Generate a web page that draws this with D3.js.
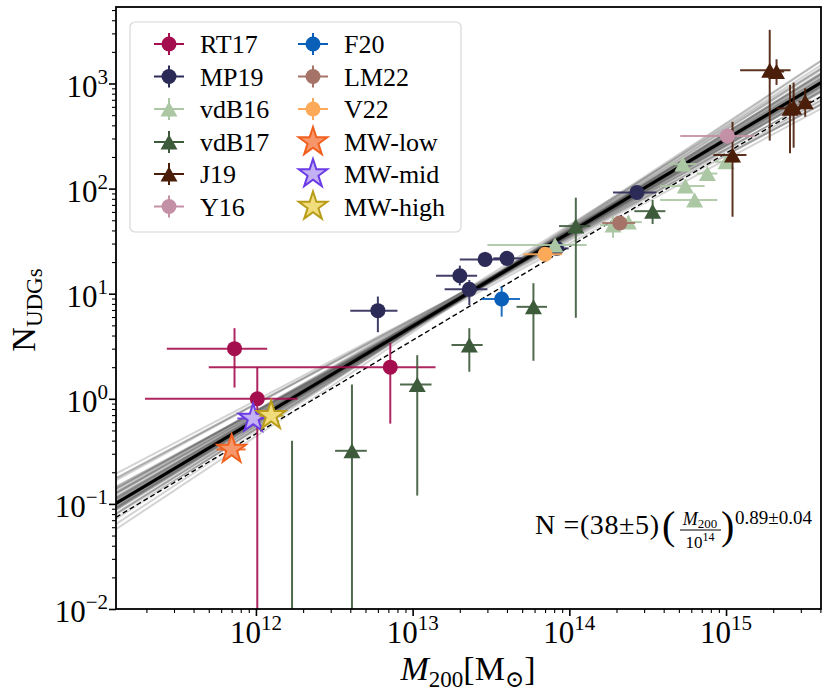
<!DOCTYPE html>
<html><head><meta charset="utf-8">
<script src="https://cdn.jsdelivr.net/npm/d3@7"></script>
<style>
body{margin:0;background:#fff}
svg{display:block}
text{font-family:"Liberation Serif","Times New Roman",serif;fill:#000}
</style>
</head><body>
<svg id="c" width="830" height="692"></svg>
<script>
// ---------------- DATA ----------------
// rows: [M200, N, M_low, M_high, N_low, N_high]
const RT17 = [
  [7.3e11, 3.0, 2.7e11, 1.18e12, 1.28, 4.7],
  [1.02e12, 1.0, 1.96e11, 1.84e12, 0.001, 2.0],
  [7.2e12, 2.0, 5.0e11, 1.40e13, 0.58, 3.4]
];
const MP19 = [
  [6.0e12, 6.9, 4.0e12, 8.0e12, 4.3, 9.4],
  [2.0e13, 14.8, 1.41e13, 2.58e13, 12.0, 18.5],
  [2.3e13, 11.0, 1.6e13, 3.0e13, 7.8, 13.5],
  [2.9e13, 21.2, 2.0e13, 3.6e13, 18.0, 25.0],
  [4.0e13, 21.7, 3.27e13, 5.0e13, 18.5, 25.0],
  [8.3e13, 27.0, 7.2e13, 9.9e13, 24.0, 30.0],
  [2.7e14, 92, 1.9e14, 3.6e14, 80, 105]
];
const vdB16 = [
  [8.1e13, 29, 3.0e13, 1.29e14, 26, 32],
  [1.9e14, 45, 1.57e14, 2.3e14, 34, 55],
  [2.38e14, 48, 2.0e14, 2.9e14, 42, 55],
  [5.3e14, 171, 4.28e14, 6.5e14, 150, 195],
  [7.6e14, 139, 6.5e14, 8.8e14, 122, 158],
  [5.5e14, 106, 3.8e14, 7.3e14, 93, 120],
  [6.3e14, 78, 3.8e14, 8.8e14, 68, 89],
  [1.0e15, 180, 8.5e14, 1.18e15, 158, 205]
];
const vdB17 = [
  [1.7e12, 0.005, 1.5e12, 1.9e12, 0.001, 0.40],
  [4.1e12, 0.32, 3.2e12, 5.1e12, 0.001, 1.37],
  [1.07e13, 1.37, 8.3e12, 1.32e13, 0.12, 2.6],
  [2.3e13, 3.25, 1.77e13, 2.8e13, 1.81, 4.7],
  [5.9e13, 7.5, 4.6e13, 7.2e13, 2.3, 12.6],
  [1.1e14, 44, 8.6e13, 1.36e14, 5.9, 82],
  [3.4e14, 61, 2.6e14, 4.1e14, 46, 78]
];
const J19 = [
  [1.9e15, 1340, 1.23e15, 2.58e15, 286, 3240],
  [2.1e15, 1300, 1.9e15, 2.35e15, 970, 1700],
  [2.56e15, 580, 2.1e15, 3.0e15, 217, 970],
  [2.7e15, 593, 2.4e15, 3.05e15, 245, 1020],
  [3.2e15, 671, 2.9e15, 3.5e15, 483, 900],
  [1.1e15, 209, 8.3e14, 1.35e15, 54, 432]
];
const Y16 = [
  [1.02e15, 316, 5.1e14, 1.53e15, 270, 370]
];
const F20 = [
  [3.7e13, 8.9, 2.75e13, 4.84e13, 6.05, 11.7]
];
const LM22 = [
  [2.1e14, 47, 1.62e14, 2.63e14, 42, 52]
];
const V22 = [
  [7.0e13, 23.7, 5.1e13, 9.0e13, 21, 26.5]
];
const MWlow  = [[7.0e11, 0.33, 5.6e11, 8.6e11, 0.30, 0.36]];
const MWmid  = [[9.6e11, 0.65, 7.6e11, 1.2e12, 0.60, 0.70]];
const MWhigh = [[1.25e12, 0.69, 1.05e12, 1.5e12, 0.64, 0.74]];

// best fit N = A (M/1e14)^B and alternative (dashed)
const fitA = 38, fitB = 0.89;
const dashA = 28, dashB = 0.89;
// posterior samples of the fit (normalisation at 1e14, slope)
const sampleA = [38,37,39,38,38,37,39,36,40,38,37,39,38,38,36,40,37,39,35,41,
                 34,42,36,40,35,41,37,39,33,43,36,38,40,37,39,
                 36,34,37,40,32,44,42,30,45,35];
const sampleB = [0.89,0.88,0.90,0.88,0.90,0.89,0.89,0.87,0.91,0.89,0.87,0.91,0.87,0.91,0.88,0.90,0.90,0.88,0.86,0.92,
                 0.84,0.94,0.85,0.93,0.83,0.95,0.84,0.94,0.82,0.96,0.86,0.86,0.92,0.85,0.93,
                 0.80,0.79,0.81,0.86,0.81,0.98,0.99,0.80,0.93,0.78];

const xMajor = [1e12, 1e13, 1e14, 1e15];
const xMajorExp = ["12","13","14","15"];
const yMajor = [1e-2, 1e-1, 1e0, 1e1, 1e2, 1e3];
const yMajorExp = ["\u22122","\u22121","0","1","2","3"];

// ---------------- SERIES STYLE ----------------
const series = [
  {name:"RT17", data:RT17, marker:"o", color:"#a50e4e"},
  {name:"MP19", data:MP19, marker:"o", color:"#2c2a57"},
  {name:"vdB16", data:vdB16, marker:"^", color:"#abc7a3"},
  {name:"vdB17", data:vdB17, marker:"^", color:"#3d5a3a"},
  {name:"J19", data:J19, marker:"^", color:"#4b1e0a"},
  {name:"Y16", data:Y16, marker:"o", color:"#c490a6"},
  {name:"F20", data:F20, marker:"o", color:"#0a60b8"},
  {name:"LM22", data:LM22, marker:"o", color:"#a57368"},
  {name:"V22", data:V22, marker:"o", color:"#fca95a"},
  {name:"MW-low", data:MWlow, marker:"*", color:"#f0601f", face:"#f7966a"},
  {name:"MW-mid", data:MWmid, marker:"*", color:"#6b3be6", face:"#c3b1f3"},
  {name:"MW-high", data:MWhigh, marker:"*", color:"#b89c1a", face:"#f1dd7c"}
];

// ---------------- CHART ----------------
const FONT = "Liberation Serif, Times New Roman, serif";
const L=116, R=821, T=7, B=609;
const x = d3.scaleLog().domain([Math.pow(10,11.107), Math.pow(10,15.606)]).range([L,R]);
const y = d3.scaleLog().domain([1e-2, Math.pow(10,3.728)]).range([B,T]);
const svg = d3.select("#c");

svg.append("defs").append("clipPath").attr("id","clip")
  .append("rect").attr("x",L).attr("y",T).attr("width",R-L).attr("height",B-T);
const plot = svg.append("g").attr("clip-path","url(#clip)");

const xd = x.domain();
const powerLine = (A,Bs) => d3.line()
  .x(d=>x(d)).y(d=>y(A*Math.pow(d/1e14,Bs)))(xd);

sampleA.forEach((a,i)=>{
  plot.append("path").attr("d",powerLine(a,sampleB[i]))
    .attr("fill","none").attr("stroke","#4a4a4a").attr("stroke-width",2).attr("stroke-opacity",0.24);
});
plot.append("path").attr("d",powerLine(fitA,fitB))
  .attr("fill","none").attr("stroke","#000").attr("stroke-width",3.2);
plot.append("path").attr("d",powerLine(dashA,dashB))
  .attr("fill","none").attr("stroke","#fff").attr("stroke-width",2.6).attr("stroke-opacity",0.7);
plot.append("path").attr("d",powerLine(dashA,dashB))
  .attr("fill","none").attr("stroke","#000").attr("stroke-width",1.4).attr("stroke-dasharray","5,3");

function starPath(Ro){
  const ri = Ro*0.382, pts=[];
  for(let k=0;k<10;k++){
    const r = k%2===0?Ro:ri, a = -Math.PI/2 + k*Math.PI/5;
    pts.push([r*Math.cos(a), r*Math.sin(a)]);
  }
  return "M"+pts.map(p=>p[0].toFixed(2)+","+p[1].toFixed(2)).join("L")+"Z";
}
const triPath = "M0,-7.5L8.5,7.5L-8.5,7.5Z";

function drawMarker(g, s, cx, cy){
  if(s.marker==="o"){
    g.append("circle").attr("cx",cx).attr("cy",cy).attr("r",7.5).attr("fill",s.color);
  } else if(s.marker==="^"){
    g.append("path").attr("d",triPath).attr("transform",`translate(${cx},${cy})`).attr("fill",s.color);
  } else {
    g.append("path").attr("d",starPath(15)).attr("transform",`translate(${cx},${cy})`)
      .attr("fill",s.face).attr("stroke",s.color).attr("stroke-width",2).attr("stroke-linejoin","miter");
  }
}

series.forEach(s=>{
  const g = plot.append("g");
  s.data.forEach(d=>{
    const [m,n,mlo,mhi,nlo,nhi] = d;
    g.append("line").attr("x1",x(mlo)).attr("x2",x(mhi)).attr("y1",y(n)).attr("y2",y(n))
      .attr("stroke",s.color).attr("stroke-width",2).attr("stroke-opacity",0.9);
    g.append("line").attr("x1",x(m)).attr("x2",x(m)).attr("y1",y(nlo)).attr("y2",y(nhi))
      .attr("stroke",s.color).attr("stroke-width",2).attr("stroke-opacity",0.9);
  });
  s.data.forEach(d=>drawMarker(g, s, x(d[0]), y(d[1])));
});

// ---------------- AXES ----------------
function minors(lo,hi){
  const out=[];
  for(let e=lo;e<=hi;e++) for(let k=2;k<=9;k++){ out.push(k*Math.pow(10,e)); }
  return out;
}
const xMin = minors(11,15).filter(v=>v>=xd[0]&&v<=xd[1]);
const yMin = minors(-2,3).filter(v=>v>=y.domain()[0]&&v<=y.domain()[1]);

const axX = svg.append("g").attr("transform",`translate(0,${B})`);
axX.append("g").call(d3.axisBottom(x).tickValues(xMajor).tickSize(7).tickFormat(""))
  .call(g=>{g.select(".domain").remove(); g.selectAll("line").attr("stroke-width",1.6);});
axX.append("g").call(d3.axisBottom(x).tickValues(xMin).tickSize(4).tickFormat(""))
  .call(g=>{g.select(".domain").remove(); g.selectAll("line").attr("stroke-width",1.1);});

const axY = svg.append("g").attr("transform",`translate(${L},0)`);
axY.append("g").call(d3.axisLeft(y).tickValues(yMajor).tickSize(7).tickFormat(""))
  .call(g=>{g.select(".domain").remove(); g.selectAll("line").attr("stroke-width",1.6);});
axY.append("g").call(d3.axisLeft(y).tickValues(yMin).tickSize(4).tickFormat(""))
  .call(g=>{g.select(".domain").remove(); g.selectAll("line").attr("stroke-width",1.1);});

svg.append("rect").attr("x",L).attr("y",T).attr("width",R-L).attr("height",B-T)
  .attr("fill","none").attr("stroke","#000").attr("stroke-width",1.8);

xMajor.forEach((v,i)=>{
  const t = svg.append("text").attr("x",x(v)).attr("y",643).attr("text-anchor","middle")
    .attr("font-family",FONT).attr("font-size",31);
  t.append("tspan").text("10");
  t.append("tspan").attr("font-size",21).attr("dy",-13).text(xMajorExp[i]);
});
yMajor.forEach((v,i)=>{
  const t = svg.append("text").attr("x",108).attr("y",y(v)+13).attr("text-anchor","end")
    .attr("font-family",FONT).attr("font-size",31);
  t.append("tspan").text("10");
  t.append("tspan").attr("font-size",21).attr("dy",-13).text(yMajorExp[i]);
});

// axis titles
const xt = svg.append("text").attr("x",468).attr("y",680).attr("text-anchor","middle")
  .attr("font-family",FONT).attr("font-size",34);
xt.append("tspan").attr("font-style","italic").text("M");
xt.append("tspan").attr("font-size",23).attr("dy",7).text("200");
xt.append("tspan").attr("dy",-7).text("[M");
xt.append("tspan").attr("font-size",23).attr("dy",7).attr("font-family","DejaVu Serif").text("\u2299");
xt.append("tspan").attr("dy",-7).text("]");

const yt = svg.append("text").attr("transform","translate(35,310) rotate(-90)").attr("text-anchor","middle")
  .attr("font-family",FONT).attr("font-size",34);
yt.append("tspan").text("N");
yt.append("tspan").attr("font-size",23).attr("dy",7).text("UDGs");

// annotation
const ann = svg.append("g").attr("font-family",FONT);
ann.append("text").attr("x",535).attr("y",534).attr("font-size",28)
  .attr("textLength",124).attr("lengthAdjust","spacing").text("N =(38\u00B15)");
ann.append("text").attr("x",662).attr("y",539).attr("font-size",40).text("(");
const num = ann.append("text").attr("x",700).attr("y",525).attr("text-anchor","middle").attr("font-size",18);
num.append("tspan").attr("font-style","italic").text("M");
num.append("tspan").attr("font-size",13).attr("dy",3).text("200");
ann.append("line").attr("x1",680).attr("x2",721).attr("y1",530).attr("y2",530).attr("stroke","#000").attr("stroke-width",1);
const den = ann.append("text").attr("x",700).attr("y",548).attr("text-anchor","middle").attr("font-size",17);
den.append("tspan").text("10");
den.append("tspan").attr("font-size",12).attr("dy",-7).text("14");
ann.append("text").attr("x",721).attr("y",539).attr("font-size",40).text(")");
ann.append("text").attr("x",735).attr("y",524).attr("font-size",19).text("0.89\u00B10.04");

// ---------------- LEGEND ----------------
const leg = svg.append("g");
leg.append("rect").attr("x",130).attr("y",22).attr("width",331).attr("height",210).attr("rx",5)
  .attr("fill","#fff").attr("fill-opacity",0.85).attr("stroke","#d8d8d8").attr("stroke-width",1.2);
const rowsY = [44, 76.5, 109, 142, 174, 206.5];
series.forEach((s,i)=>{
  const col = Math.floor(i/6), row = i%6;
  const mx = col===0?169:313, tx = col===0?200:344, cy = rowsY[row];
  const g = leg.append("g");
  if(s.marker!=="*"){
    g.append("line").attr("x1",mx-15).attr("x2",mx+15).attr("y1",cy).attr("y2",cy).attr("stroke",s.color).attr("stroke-width",2);
    g.append("line").attr("x1",mx).attr("x2",mx).attr("y1",cy-11).attr("y2",cy+11).attr("stroke",s.color).attr("stroke-width",2);
  }
  drawMarker(g, s, mx, cy);
  g.append("text").attr("x",tx).attr("y",cy+9).attr("font-family",FONT).attr("font-size",26).text(s.name);
});
</script>
</body></html>
